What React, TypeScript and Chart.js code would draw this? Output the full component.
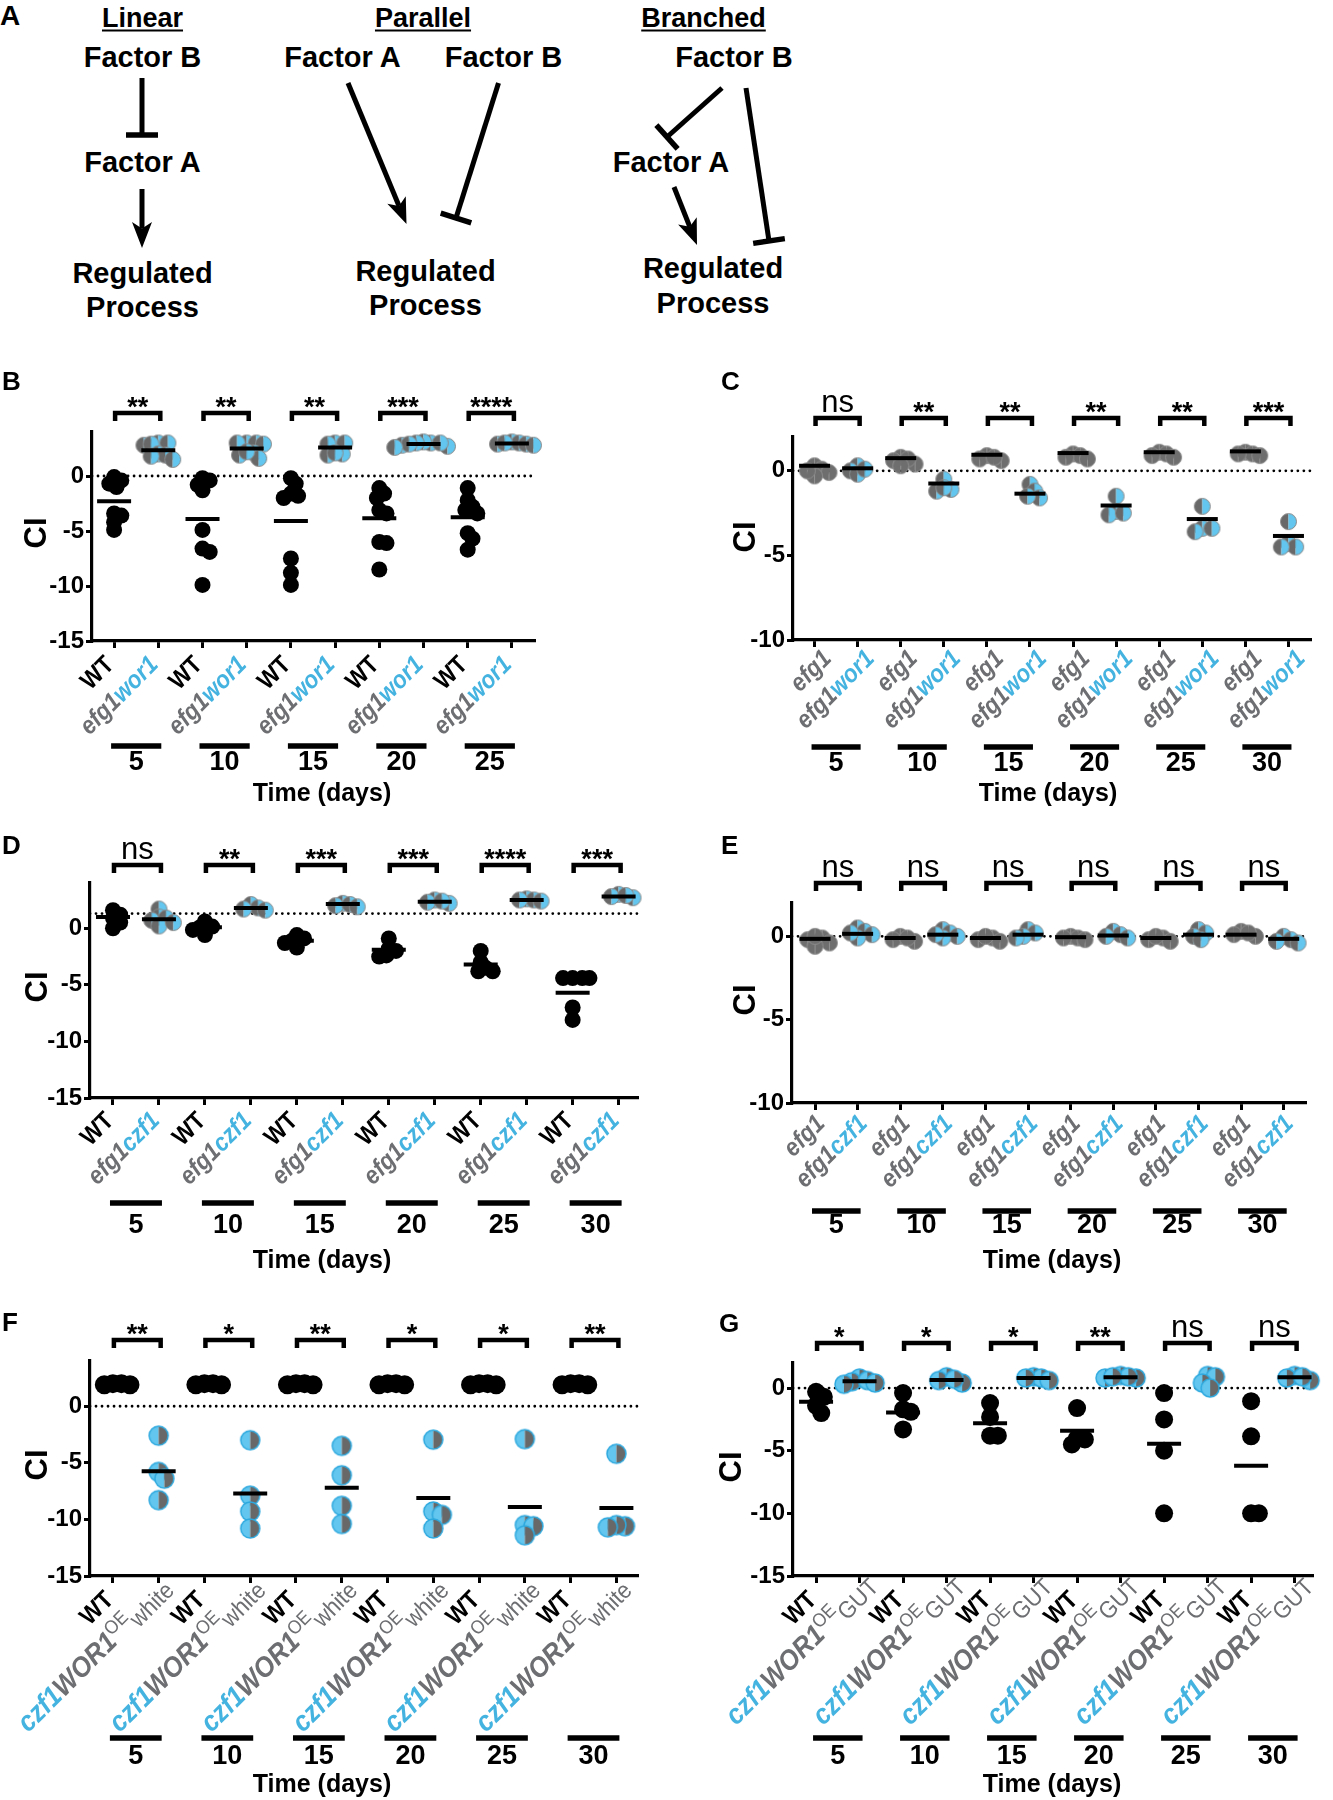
import React, { useEffect, useRef } from 'react';
import { Chart, registerables } from 'chart.js';

Chart.register(...registerables);

const FONT = '"Liberation Sans", Arial, Helvetica, sans-serif';
const TXT_GREY = '#6d6e71';
const TXT_BLUE = '#45b3e0';
const MARK_BLUE = '#62c6ee';
const MARK_GREY = '#686868';

// ---------------- Panel B : WT vs efg1 wor1 ----------------
const B_days = ['5', '10', '15', '20', '25'];
const B_sig = ['**', '**', '**', '***', '****'];
const B_wt = [
  [-0.1, -0.4, -0.7, -1.0, -3.4, -3.6, -4.2, -4.9],
  [-0.2, -0.4, -0.8, -1.3, -4.9, -6.6, -6.9, -9.9],
  [-0.2, -0.7, -1.6, -1.8, -2.0, -7.5, -8.8, -9.9],
  [-1.1, -1.6, -2.0, -3.1, -3.4, -6.0, -6.1, -8.5],
  [-1.1, -2.2, -2.8, -3.1, -3.4, -5.2, -5.7, -6.7],
];
const B_wtMean = [-2.3, -3.9, -4.1, -3.85, -3.75];
const B_mut = [
  [3.0, 3.0, 2.8, 2.9, 2.0, 1.9, 1.5, 1.8],
  [3.0, 3.0, 2.9, 3.0, 2.1, 1.9, 1.6, 2.2],
  [3.0, 2.9, 3.0, 2.0, 1.9, 2.1],
  [3.0, 3.1, 3.0, 2.8, 2.7, 2.9, 2.6, 3.0],
  [3.1, 3.0, 2.9, 2.9, 3.0, 2.8],
];
const B_mutMean = [2.35, 2.5, 2.6, 2.9, 2.95];

// ---------------- Panel C : efg1 vs efg1 wor1 ----------------
const C_days = ['5', '10', '15', '20', '25', '30'];
const C_sig = ['ns', '**', '**', '**', '**', '***'];
const C_efg = [
  [0.3, 0.1, -0.1, -0.3, 0.0],
  [0.8, 0.6, 0.4, 0.7, 0.3],
  [0.9, 0.7, 0.6, 0.8],
  [1.0, 0.9, 0.7, 0.8],
  [1.1, 1.0, 0.8, 0.9],
  [1.1, 1.0, 0.9, 1.0],
];
const C_efgMean = [0.3, 0.75, 0.95, 1.05, 1.1, 1.15];
const C_mut = [
  [0.3, 0.0, -0.2, 0.1],
  [-0.5, -1.1, -1.2, -1.0],
  [-0.8, -1.2, -1.6, -1.5],
  [-1.5, -2.4, -2.6, -2.5],
  [-2.1, -3.4, -3.6, -3.4],
  [-3.0, -4.3, -4.5, -4.5],
];
const C_mutMean = [0.15, -0.75, -1.35, -2.05, -2.85, -3.85];

// ---------------- Panel D : WT vs efg1 czf1 ----------------
const D_days = ['5', '10', '15', '20', '25', '30'];
const D_sig = ['ns', '**', '***', '***', '****', '***'];
const D_ref = 1.3;
const D_wt = [
  [1.6, 1.2, 0.9, 0.5, 0.0],
  [0.6, 0.15, -0.15, 0.1, -0.6],
  [-0.6, -0.9, -1.1, -1.3, -1.7],
  [-0.9, -1.8, -2.0, -2.4, -2.5],
  [-2.0, -3.0, -3.5, -3.8, -3.8],
  [-4.4, -4.4, -4.4, -4.4, -7.0, -8.1],
];
const D_wtMean = [1.0, 0.1, -1.1, -1.9, -3.2, -5.7];
const D_mut = [
  [1.7, 1.0, 0.7, 0.9, 0.2, 0.5],
  [2.1, 1.8, 1.7, 1.6],
  [2.2, 2.0, 2.1, 1.9],
  [2.5, 2.3, 2.2, 2.4],
  [2.6, 2.5, 2.4, 2.5],
  [3.0, 2.8, 2.7, 2.9],
];
const D_mutMean = [0.8, 1.8, 2.15, 2.35, 2.5, 2.8];

// ---------------- Panel E : efg1 vs efg1 czf1 ----------------
const E_days = ['5', '10', '15', '20', '25', '30'];
const E_sig = ['ns', 'ns', 'ns', 'ns', 'ns', 'ns'];
const E_efg = [
  [-0.1, -0.2, -0.4, -0.6, 0.0],
  [0.0, -0.2, -0.3, -0.1],
  [-0.1, -0.2, -0.3, 0.0],
  [0.0, -0.1, -0.2, -0.1],
  [-0.1, -0.2, -0.3, 0.0],
  [0.3, 0.1, 0.0, 0.2],
];
const E_efgMean = [-0.15, -0.1, -0.1, -0.05, -0.1, 0.1];
const E_mut = [
  [0.5, 0.3, 0.1, -0.1, 0.2],
  [0.4, 0.2, 0.0, -0.1, 0.1],
  [0.4, 0.2, 0.0, -0.1],
  [0.3, 0.1, -0.1, 0.0],
  [0.4, 0.2, 0.0, -0.2],
  [0.0, -0.2, -0.4, -0.3],
];
const E_mutMean = [0.15, 0.1, 0.1, 0.05, 0.1, -0.15];

// ---------------- Panel F : WT vs czf1 WOR1 OE white ----------------
const F_days = ['5', '10', '15', '20', '25', '30'];
const F_sig = ['**', '*', '**', '*', '*', '**'];
const F_wt = [
  [2.0, 1.9, 2.0, 1.9],
  [1.9, 2.0, 2.0, 1.9],
  [2.0, 1.9, 1.9, 2.0],
  [1.9, 2.0, 1.9, 2.0],
  [2.0, 1.9, 2.0, 1.9],
  [2.0, 2.0, 1.9, 1.9],
];
const F_wtMean = [1.95, 1.95, 1.95, 1.95, 1.95, 1.95];
const F_mut = [
  [-2.6, -5.8, -6.4, -8.3],
  [-3.0, -7.9, -9.3, -10.8],
  [-3.5, -6.1, -8.8, -10.4],
  [-2.95, -9.3, -9.6, -10.8],
  [-2.9, -10.5, -10.6, -11.4],
  [-4.2, -10.6, -10.5, -10.7],
];
const F_mutMean = [-5.75, -7.7, -7.2, -8.1, -8.9, -9.0];

// ---------------- Panel G : WT vs czf1 WOR1 OE GUT ----------------
const G_days = ['5', '10', '15', '20', '25', '30'];
const G_sig = ['*', '*', '*', '**', 'ns', 'ns'];
const G_wt = [
  [-0.3, -0.7, -1.4, -2.0],
  [-0.4, -1.7, -1.9, -3.3],
  [-1.2, -2.3, -3.8, -3.8],
  [-1.6, -4.0, -4.1, -4.5],
  [-0.4, -2.5, -5.0, -10.0],
  [-1.05, -3.85, -10.0, -10.0],
];
const G_wtMean = [-1.1, -1.95, -2.8, -3.4, -4.45, -6.2];
const G_mut = [
  [0.8, 0.5, 0.3, 0.6, 0.4],
  [0.9, 0.6, 0.4, 0.7],
  [0.9, 0.8, 0.6, 0.8],
  [1.0, 0.8, 0.9, 0.8, 0.9],
  [1.0, 0.9, 0.4, 0.0],
  [1.0, 0.8, 0.6, 0.9],
];
const G_mutMean: (number | null)[] = [0.55, 0.65, 0.8, 0.87, null, 0.87];

// ---------------- helpers ----------------
type Seg = { t: string; c: string; bold?: boolean; italic?: boolean; size?: number; shift?: number };

const L_WT: Seg[] = [{ t: 'WT', c: '#000', bold: true, size: 25 }];
const L_EFG: Seg[] = [{ t: 'efg1', c: TXT_GREY, bold: true, italic: true, size: 25 }];
const L_EFG_WOR: Seg[] = [
  { t: 'efg1', c: TXT_GREY, bold: true, italic: true, size: 25 },
  { t: 'wor1', c: TXT_BLUE, bold: true, italic: true, size: 25 },
];
const L_EFG_CZF: Seg[] = [
  { t: 'efg1', c: TXT_GREY, bold: true, italic: true, size: 25 },
  { t: 'czf1', c: TXT_BLUE, bold: true, italic: true, size: 25 },
];
const oeLabel = (sub: string): Seg[] => [
  { t: 'czf1', c: TXT_BLUE, bold: true, italic: true, size: 28 },
  { t: 'WOR1', c: TXT_GREY, bold: true, italic: true, size: 28 },
  { t: 'OE', c: TXT_GREY, size: 19, shift: -10 },
  { t: sub, c: TXT_GREY, size: 24, shift: 4 },
];

type Box = { left: number; top: number; width: number; height: number };
interface PanelCfg {
  letter: string;
  canvas: Box;
  area: { l: number; t: number; r: number; b: number };
  xMin: number; xMax: number; yMin: number; yMax: number; yTicks: number[];
  ref: number;
  days: string[]; sig: string[];
  a: number[][]; aMean: (number | null)[];
  b: number[][]; bMean: (number | null)[];
  aStyle: 'black' | 'grey';
  bStyle: 'greyBlue' | 'blueGrey';
  r: number; meanR: number;
  labelA: Seg[]; labelB: Seg[]; labelSx: number;
  labelDx: number; labelDy: number; labelBShift: number;
  letterPos: [number, number]; ciPos: [number, number];
  brY: number; lineY: number; numY: number; timeY: number; timeX: number;
}

const PANELS: PanelCfg[] = [
  {
    letter: 'B', canvas: { left: 0, top: 360, width: 560, height: 450 },
    area: { l: 92, t: 432, r: 534, b: 641 }, xMin: 0.5, xMax: 10.5, yMin: -15, yMax: 4, yTicks: [-15, -10, -5, 0],
    ref: 0, days: B_days, sig: B_sig, a: B_wt, aMean: B_wtMean, b: B_mut, bMean: B_mutMean,
    aStyle: 'black', bStyle: 'greyBlue', r: 8, meanR: 17, labelA: L_WT, labelB: L_EFG_WOR, labelSx: 0.9,
    labelDx: 1, labelDy: 25, labelBShift: 0, letterPos: [2, 383], ciPos: [37, 533],
    brY: 413, lineY: 746, numY: 763, timeY: 794, timeX: 322,
  },
  {
    letter: 'C', canvas: { left: 700, top: 360, width: 633, height: 450 },
    area: { l: 793, t: 437, r: 1310, b: 640 }, xMin: 0.5, xMax: 12.5, yMin: -10, yMax: 2, yTicks: [-10, -5, 0],
    ref: 0, days: C_days, sig: C_sig, a: C_efg, aMean: C_efgMean, b: C_mut, bMean: C_mutMean,
    aStyle: 'grey', bStyle: 'greyBlue', r: 8, meanR: 15.5, labelA: L_EFG, labelB: L_EFG_WOR, labelSx: 0.9,
    labelDx: 18, labelDy: 20, labelBShift: 0, letterPos: [721, 383], ciPos: [746, 537],
    brY: 418, lineY: 747, numY: 764, timeY: 794, timeX: 1048,
  },
  {
    letter: 'D', canvas: { left: 0, top: 820, width: 660, height: 455 },
    area: { l: 90, t: 883, r: 637, b: 1098 }, xMin: 0.5, xMax: 12.4, yMin: -15, yMax: 4, yTicks: [-15, -10, -5, 0],
    ref: D_ref, days: D_days, sig: D_sig, a: D_wt, aMean: D_wtMean, b: D_mut, bMean: D_mutMean,
    aStyle: 'black', bStyle: 'greyBlue', r: 8, meanR: 17, labelA: L_WT, labelB: L_EFG_CZF, labelSx: 0.9,
    labelDx: 2, labelDy: 24, labelBShift: 0, letterPos: [2, 847], ciPos: [38, 987],
    brY: 865, lineY: 1203, numY: 1226, timeY: 1261, timeX: 322,
  },
  {
    letter: 'E', canvas: { left: 700, top: 820, width: 633, height: 455 },
    area: { l: 792, t: 903, r: 1305, b: 1103 }, xMin: 0.46, xMax: 12.5, yMin: -10, yMax: 2, yTicks: [-10, -5, 0],
    ref: 0, days: E_days, sig: E_sig, a: E_efg, aMean: E_efgMean, b: E_mut, bMean: E_mutMean,
    aStyle: 'grey', bStyle: 'greyBlue', r: 8, meanR: 15.5, labelA: L_EFG, labelB: L_EFG_CZF, labelSx: 0.9,
    labelDx: 11, labelDy: 22, labelBShift: 0, letterPos: [721, 847], ciPos: [746, 1000],
    brY: 883, lineY: 1211, numY: 1226, timeY: 1261, timeX: 1052,
  },
  {
    letter: 'F', canvas: { left: 0, top: 1300, width: 660, height: 500 },
    area: { l: 90, t: 1361, r: 637, b: 1576 }, xMin: 0.5, xMax: 12.45, yMin: -15, yMax: 4, yTicks: [-15, -10, -5, 0],
    ref: 0, days: F_days, sig: F_sig, a: F_wt, aMean: F_wtMean, b: F_mut, bMean: F_mutMean,
    aStyle: 'black', bStyle: 'blueGrey', r: 9.5, meanR: 17, labelA: L_WT, labelB: oeLabel('white'), labelSx: 0.92,
    labelDx: 2, labelDy: 25, labelBShift: 17, letterPos: [2, 1324], ciPos: [38, 1465],
    brY: 1340, lineY: 1738, numY: 1757, timeY: 1785, timeX: 322,
  },
  {
    letter: 'G', canvas: { left: 700, top: 1300, width: 633, height: 500 },
    area: { l: 793, t: 1363, r: 1333, b: 1576 }, xMin: 0.47, xMax: 12.4, yMin: -15, yMax: 2, yTicks: [-15, -10, -5, 0],
    ref: 0, days: G_days, sig: G_sig, a: G_wt, aMean: G_wtMean, b: G_mut, bMean: G_mutMean,
    aStyle: 'black', bStyle: 'blueGrey', r: 9, meanR: 17, labelA: L_WT, labelB: oeLabel('GUT'), labelSx: 0.92,
    labelDx: 2, labelDy: 25, labelBShift: 22, letterPos: [719, 1325], ciPos: [732, 1467],
    brY: 1343, lineY: 1738, numY: 1757, timeY: 1785, timeX: 1052,
  },
];

function swarm(vals: number[], pxX: number, pxY: number, r: number): number[] {
  const order = vals.map((_, i) => i).sort((a, b) => vals[b] - vals[a]);
  const placed: [number, number][] = [];
  const out = vals.map(() => 0);
  const minD = r * 0.9;
  const step = r * 0.3;
  for (const i of order) {
    const y = vals[i] * pxY;
    let off = 0;
    for (let k = 0; k < 80; k++) {
      const c = k === 0 ? 0 : (k % 2 ? 1 : -1) * Math.ceil(k / 2) * step;
      if (placed.every(([px, py]) => Math.hypot(px - c, py - y) >= minD)) { off = c; break; }
    }
    placed.push([off, y]);
    out[i] = off / pxX;
  }
  return out;
}

function halfMarker(r: number, left: string, right: string, stroke: string, sw: number): HTMLCanvasElement {
  const size = Math.ceil(2 * r + sw + 2);
  const c = document.createElement('canvas');
  c.width = size; c.height = size;
  const g = c.getContext('2d')!;
  const cx = size / 2;
  g.beginPath(); g.arc(cx, cx, r, Math.PI / 2, Math.PI * 1.5); g.closePath(); g.fillStyle = left; g.fill();
  g.beginPath(); g.arc(cx, cx, r, -Math.PI / 2, Math.PI / 2); g.closePath(); g.fillStyle = right; g.fill();
  g.beginPath(); g.arc(cx, cx, r, 0, Math.PI * 2); g.lineWidth = sw; g.strokeStyle = stroke; g.stroke();
  return c;
}

function segFont(s: Seg) {
  return `${s.italic ? 'italic ' : ''}${s.bold ? 'bold ' : ''}${s.size || 22}px ${FONT}`;
}

function drawLabel(ctx: CanvasRenderingContext2D, segs: Seg[], ax: number, ay: number, shift: number, sx: number) {
  ctx.save();
  ctx.translate(ax + shift * Math.SQRT1_2, ay - shift * Math.SQRT1_2);
  ctx.rotate(-Math.PI / 4);
  ctx.scale(sx, 1);
  const widths = segs.map((s) => { ctx.font = segFont(s); return ctx.measureText(s.t).width; });
  const total = widths.reduce((a, b) => a + b, 0);
  let x = -total;
  ctx.textAlign = 'left';
  ctx.textBaseline = 'alphabetic';
  segs.forEach((s, i) => {
    ctx.font = segFont(s);
    ctx.fillStyle = s.c;
    ctx.fillText(s.t, x, s.shift || 0);
    x += widths[i];
  });
  ctx.restore();
}

function buildConfig(p: PanelCfg): any {
  const C = p.canvas, A = p.area;
  const pxX = (A.r - A.l) / (p.xMax - p.xMin);
  const pxY = (A.b - A.t) / (p.yMax - p.yMin);
  const n = p.days.length;
  const positions: number[] = [];
  for (let k = 0; k < n; k++) positions.push(2 * k + 1, 2 * k + 2);

  const ptsA: { x: number; y: number }[] = [];
  const ptsB: { x: number; y: number }[] = [];
  const means: { x: number; y: number }[] = [];
  p.a.forEach((vals, k) => {
    const off = swarm(vals, pxX, pxY, p.r);
    vals.forEach((v, i) => ptsA.push({ x: 2 * k + 1 + off[i], y: v }));
    const m = p.aMean[k];
    if (m !== null && m !== undefined) means.push({ x: 2 * k + 1, y: m });
  });
  p.b.forEach((vals, k) => {
    const off = swarm(vals, pxX, pxY, p.r);
    vals.forEach((v, i) => ptsB.push({ x: 2 * k + 2 + off[i], y: v }));
    const m = p.bMean[k];
    if (m !== null && m !== undefined) means.push({ x: 2 * k + 2, y: m });
  });

  const markerB = p.bStyle === 'greyBlue'
    ? halfMarker(p.r, MARK_GREY, MARK_BLUE, '#8a8a8a', 1)
    : halfMarker(p.r, MARK_BLUE, MARK_GREY, '#2ea9df', 1.5);

  const datasetA: any = p.aStyle === 'black'
    ? { data: ptsA, pointStyle: 'circle', pointRadius: p.r, pointBackgroundColor: '#000', pointBorderWidth: 0, clip: false }
    : { data: ptsA, pointStyle: halfMarker(p.r, '#6e6e6e', '#6e6e6e', '#8d8d8d', 1), pointRadius: p.r, clip: false };

  const decor = {
    id: 'decor',
    afterDraw(chart: any) {
      const ctx: CanvasRenderingContext2D = chart.ctx;
      const xs = chart.scales.x;
      const ox = C.left, oy = C.top;
      const axisY = chart.chartArea.bottom;
      ctx.save();
      ctx.fillStyle = '#000';
      ctx.strokeStyle = '#000';
      ctx.font = `bold 26px ${FONT}`;
      ctx.textAlign = 'left';
      ctx.textBaseline = 'middle';
      ctx.fillText(p.letter, p.letterPos[0] - ox, p.letterPos[1] - oy);

      ctx.save();
      ctx.translate(p.ciPos[0] - ox, p.ciPos[1] - oy);
      ctx.rotate(-Math.PI / 2);
      ctx.font = `bold 31px ${FONT}`;
      ctx.textAlign = 'center';
      ctx.textBaseline = 'middle';
      ctx.fillText('CI', 0, 0);
      ctx.restore();

      for (let k = 0; k < n; k++) {
        const x1 = xs.getPixelForValue(2 * k + 1);
        const x2 = xs.getPixelForValue(2 * k + 2);
        const by = p.brY - oy;
        ctx.beginPath();
        ctx.moveTo(x1 + 1, by + 8);
        ctx.lineTo(x1 + 1, by);
        ctx.lineTo(x2 + 2, by);
        ctx.lineTo(x2 + 2, by + 8);
        ctx.lineWidth = 4.5;
        ctx.lineJoin = 'miter';
        ctx.stroke();

        const s = p.sig[k];
        const mid = (x1 + x2) / 2 + 1.5;
        ctx.textAlign = 'center';
        ctx.textBaseline = 'alphabetic';
        ctx.fillStyle = '#000';
        if (s === 'ns') {
          ctx.font = `31px ${FONT}`;
          ctx.fillText(s, mid, by - 6);
        } else {
          ctx.font = `bold 27px ${FONT}`;
          ctx.fillText(s, mid, by + 3);
        }

        drawLabel(ctx, p.labelA, x1 + p.labelDx, axisY + p.labelDy, 0, p.labelSx);
        drawLabel(ctx, p.labelB, x2 + p.labelDx, axisY + p.labelDy, p.labelBShift, p.labelSx);

        ctx.beginPath();
        ctx.moveTo(x1 - 3, p.lineY - oy);
        ctx.lineTo(x2 + 3, p.lineY - oy);
        ctx.lineWidth = 5.5;
        ctx.stroke();

        ctx.fillStyle = '#000';
        ctx.font = `bold 27px ${FONT}`;
        ctx.textAlign = 'center';
        ctx.textBaseline = 'middle';
        ctx.fillText(p.days[k], (x1 + x2) / 2, p.numY - oy);
      }
      ctx.font = `bold 25px ${FONT}`;
      ctx.textAlign = 'center';
      ctx.textBaseline = 'middle';
      ctx.fillText('Time (days)', p.timeX - ox, p.timeY - oy);
      ctx.restore();
    },
  };

  return {
    type: 'scatter',
    data: {
      datasets: [
        { data: means, pointStyle: 'line', pointRadius: p.meanR, pointBorderWidth: 4, pointBorderColor: '#000', pointBackgroundColor: '#000', clip: false },
        datasetA,
        { data: ptsB, pointStyle: markerB, pointRadius: p.r, clip: false },
        {
          data: [{ x: p.xMin, y: p.ref }, { x: p.xMax, y: p.ref }], showLine: true, pointRadius: 0,
          borderColor: '#000', borderWidth: 2.8, borderDash: [0.01, 6], borderCapStyle: 'round', clip: false,
        },
      ],
    },
    options: {
      responsive: false,
      animation: false,
      events: [],
      layout: { padding: { left: 0, top: A.t - C.top, right: C.left + C.width - A.r, bottom: 0 } },
      plugins: { legend: { display: false }, tooltip: { enabled: false }, title: { display: false } },
      scales: {
        x: {
          type: 'linear', position: 'bottom', min: p.xMin, max: p.xMax,
          afterBuildTicks: (s: any) => { s.ticks = positions.map((v) => ({ value: v })); },
          afterFit: (s: any) => { s.height = C.top + C.height - A.b; },
          ticks: { display: true, autoSkip: false, callback: () => '', font: { size: 2 } },
          grid: { display: true, drawOnChartArea: false, drawTicks: true, tickLength: 7, lineWidth: 3, color: '#000' },
          border: { display: true, width: 3.2, color: '#000' },
        },
        y: {
          type: 'linear', position: 'left', min: p.yMin, max: p.yMax,
          afterBuildTicks: (s: any) => { s.ticks = p.yTicks.map((v) => ({ value: v })); },
          afterFit: (s: any) => { s.width = A.l - C.left; },
          ticks: { color: '#000', padding: 2, autoSkip: false, font: { family: FONT, size: 24, weight: 'bold' }, callback: (v: any) => String(v) },
          grid: { display: true, drawOnChartArea: false, drawTicks: true, tickLength: 6, lineWidth: 3, color: '#000' },
          border: { display: true, width: 3.2, color: '#000' },
        },
      },
    },
    plugins: [decor],
  };
}

function Panel({ cfg }: { cfg: PanelCfg }) {
  const ref = useRef<HTMLCanvasElement>(null);
  useEffect(() => {
    const chart = new Chart(ref.current!, buildConfig(cfg));
    return () => chart.destroy();
  }, [cfg]);
  const c = cfg.canvas;
  return (
    <canvas
      ref={ref}
      width={c.width}
      height={c.height}
      style={{ position: 'absolute', left: c.left, top: c.top, width: c.width, height: c.height }}
    />
  );
}

// ---------------- Panel A diagram ----------------
const A_TEXT: { t: string; x: number; y: number; u?: boolean; size?: number }[] = [
  { t: 'Linear', x: 142.5, y: 18, u: true, size: 27 },
  { t: 'Factor B', x: 142.5, y: 57 },
  { t: 'Factor A', x: 142.5, y: 162 },
  { t: 'Regulated', x: 142.5, y: 273 },
  { t: 'Process', x: 142.5, y: 307 },
  { t: 'Parallel', x: 423, y: 18, u: true, size: 27 },
  { t: 'Factor A', x: 342.5, y: 57 },
  { t: 'Factor B', x: 503.5, y: 57 },
  { t: 'Regulated', x: 425.5, y: 271 },
  { t: 'Process', x: 425.5, y: 305 },
  { t: 'Branched', x: 703.5, y: 18, u: true, size: 27 },
  { t: 'Factor B', x: 734, y: 57 },
  { t: 'Factor A', x: 671, y: 162 },
  { t: 'Regulated', x: 713, y: 268 },
  { t: 'Process', x: 713, y: 303 },
];
const A_ARROWS: [number, number, number, number][] = [
  [142, 189, 142, 248],
  [348, 83, 406.5, 224],
  [674, 187, 697, 245],
];
const A_INHIBITS: [number, number, number, number][] = [
  [142, 78, 142, 135],
  [498.5, 83, 456, 218],
  [722, 88, 667, 137],
  [746, 88, 769, 241],
];

function Diagram() {
  const els: React.ReactNode[] = [];
  A_ARROWS.forEach(([x1, y1, x2, y2], i) => {
    const L = Math.hypot(x2 - x1, y2 - y1);
    const ux = (x2 - x1) / L, uy = (y2 - y1) / L;
    const nx = -uy, ny = ux;
    const len = 26, hw = 10;
    const bx = x2 - ux * len, by = y2 - uy * len;
    const notchX = x2 - ux * len * 0.75, notchY = y2 - uy * len * 0.75;
    els.push(<line key={'al' + i} x1={x1} y1={y1} x2={notchX} y2={notchY} stroke="#000" strokeWidth={5} />);
    els.push(
      <polygon
        key={'ah' + i}
        points={`${x2},${y2} ${bx + nx * hw},${by + ny * hw} ${notchX},${notchY} ${bx - nx * hw},${by - ny * hw}`}
        fill="#000"
      />
    );
  });
  A_INHIBITS.forEach(([x1, y1, x2, y2], i) => {
    const L = Math.hypot(x2 - x1, y2 - y1);
    const ux = (x2 - x1) / L, uy = (y2 - y1) / L;
    const nx = -uy, ny = ux;
    const hb = 16;
    els.push(<line key={'il' + i} x1={x1} y1={y1} x2={x2} y2={y2} stroke="#000" strokeWidth={5} />);
    els.push(<line key={'ib' + i} x1={x2 + nx * hb} y1={y2 + ny * hb} x2={x2 - nx * hb} y2={y2 - ny * hb} stroke="#000" strokeWidth={5.5} />);
  });
  return (
    <>
      <div style={{ position: 'absolute', left: 0, top: 2, font: `bold 28px ${FONT}`, lineHeight: 1, color: '#000' }}>A</div>
      {A_TEXT.map((d, i) => (
        <div
          key={i}
          style={{
            position: 'absolute', left: d.x, top: d.y, transform: 'translate(-50%, -50%)',
            font: `bold ${d.size || 29}px ${FONT}`, lineHeight: 1, whiteSpace: 'nowrap', color: '#000',
            textDecoration: d.u ? 'underline' : 'none', textDecorationThickness: 2, textUnderlineOffset: 3,
          }}
        >
          {d.t}
        </div>
      ))}
      <svg width={820} height={330} style={{ position: 'absolute', left: 0, top: 0 }}>
        {els}
      </svg>
    </>
  );
}

export default function App() {
  return (
    <div style={{ position: 'absolute', left: 0, top: 0, width: 1333, height: 1800, background: '#fff', overflow: 'hidden' }}>
      <Diagram />
      {PANELS.map((p) => <Panel key={p.letter} cfg={p} />)}
    </div>
  );
}
